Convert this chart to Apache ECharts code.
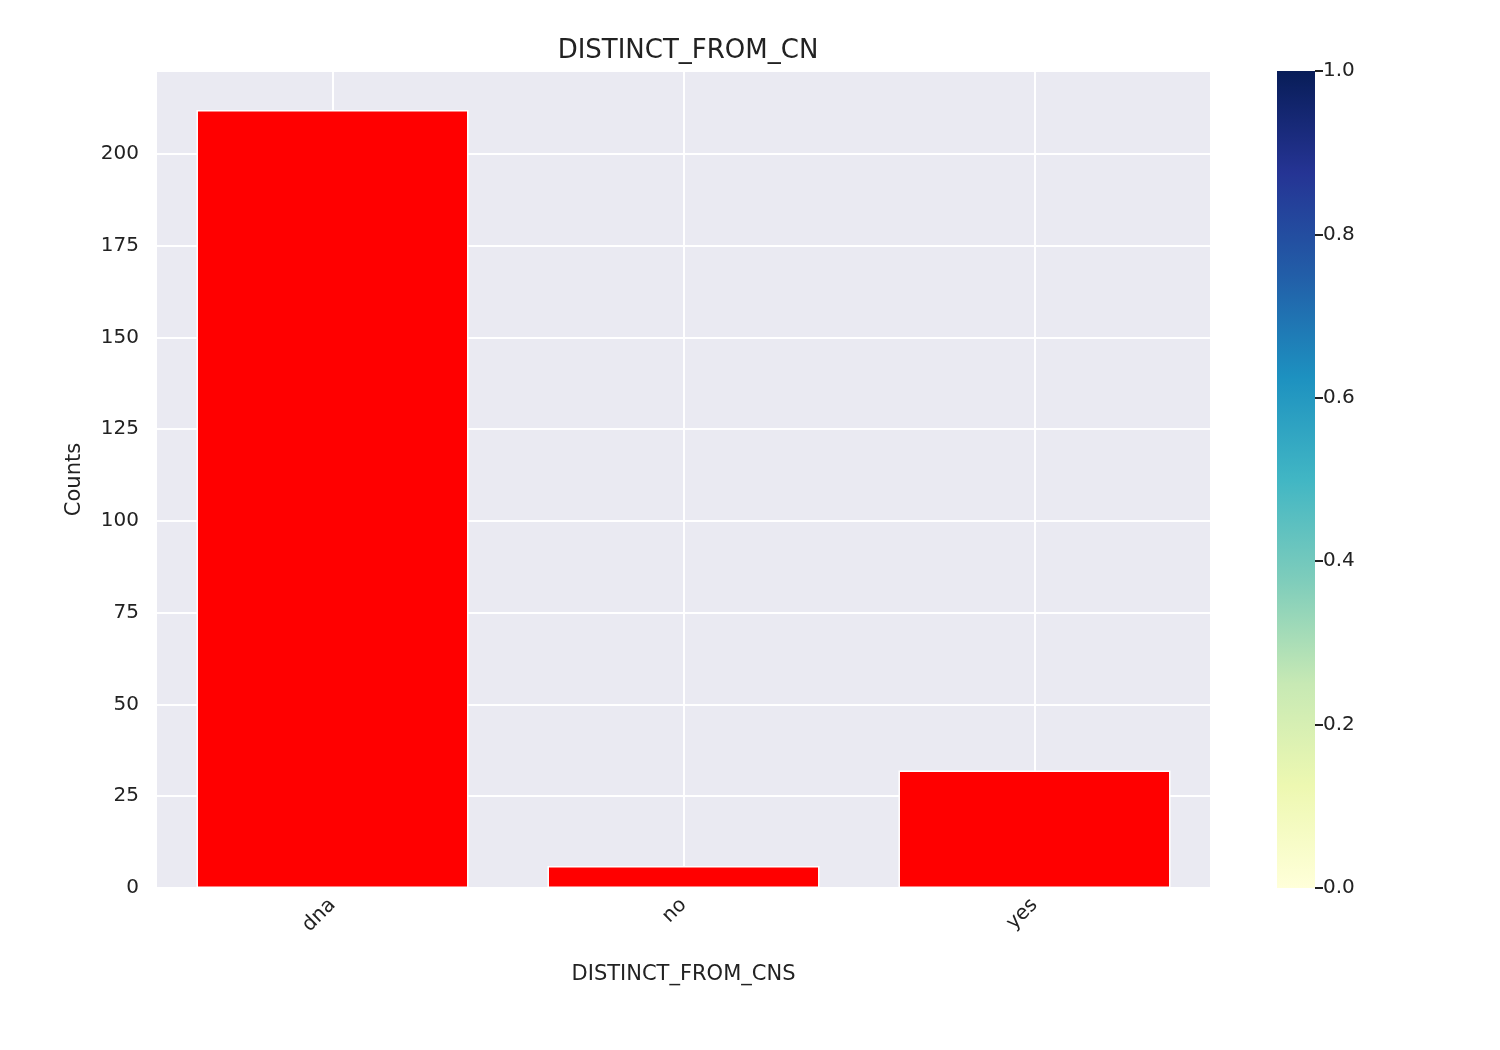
<!DOCTYPE html>
<html><head><meta charset="utf-8">
<script src="https://cdn.jsdelivr.net/npm/echarts@6/dist/echarts.min.js"></script>
<style>body{margin:0}#c{width:1500px;height:1050px}</style></head>
<body><div id="c"></div>
<script>
const categories = ['dna', 'no', 'yes'];
const counts = [212, 6, 32];
const yTicks = [0, 25, 50, 75, 100, 125, 150, 175, 200];
const cbarValue = [1];
const F = 'DejaVu Sans';
const chart = echarts.init(document.getElementById('c'));
chart.setOption({
  backgroundColor: '#fff',
  title: {text: 'DISTINCT_FROM_CN', left: 683, top: 33, textAlign: 'center',
    textStyle: {fontFamily: F, fontSize: 26, fontWeight: 'normal', color: '#222'}},
  grid: [
    {left: 157, top: 71, width: 1053, height: 817, backgroundColor: '#EAEAF2', show: true, borderWidth: 0},
    {left: 1277, top: 71, width: 38, height: 817, show: false}
  ],
  xAxis: [
    {type: 'category', gridIndex: 0, data: categories,
      name: 'DISTINCT_FROM_CNS', nameLocation: 'middle', nameGap: 76,
      nameTextStyle: {fontFamily: F, fontSize: 21, color: '#222'},
      axisLine: {show: false}, axisTick: {show: false},
      axisLabel: {rotate: 45, fontFamily: F, fontSize: 20, color: '#222', margin: 14},
      splitLine: {show: true, alignWithLabel: true, lineStyle: {color: '#fff', width: 2}}},
    {type: 'category', gridIndex: 1, data: [''], show: false}
  ],
  yAxis: [
    {type: 'value', gridIndex: 0, min: 0, max: 222.6, interval: 25,
      name: 'Counts', nameLocation: 'middle', nameGap: 72,
      nameTextStyle: {fontFamily: F, fontSize: 21, color: '#222'},
      axisLine: {show: false}, axisTick: {show: false},
      axisLabel: {fontFamily: F, fontSize: 20, color: '#222', margin: 18,
        formatter: v => yTicks.includes(v) ? String(v) : ''},
      splitLine: {lineStyle: {color: '#fff', width: 2}}},
    {type: 'value', gridIndex: 1, min: 0, max: 1, interval: 0.2, position: 'right',
      axisLine: {show: false},
      axisTick: {show: true, length: 8, lineStyle: {color: '#222', width: 2}},
      axisLabel: {fontFamily: F, fontSize: 20, color: '#222', margin: 8, formatter: v => v.toFixed(1)},
      splitLine: {show: false}}
  ],
  series: [
    {type: 'bar', xAxisIndex: 0, yAxisIndex: 0, data: counts, barCategoryGap: '22.5%',
      itemStyle: {color: '#ff0000', borderColor: '#fff', borderWidth: 1.5}, silent: true},
    {type: 'bar', xAxisIndex: 1, yAxisIndex: 1, data: cbarValue, barWidth: '100%', silent: true,
      itemStyle: {color: new echarts.graphic.LinearGradient(0, 1, 0, 0, [
        {offset: 0, color: '#ffffd9'}, {offset: 0.125, color: '#edf8b1'},
        {offset: 0.25, color: '#c7e9b4'}, {offset: 0.375, color: '#7fcdbb'},
        {offset: 0.5, color: '#41b6c4'}, {offset: 0.625, color: '#1d91c0'},
        {offset: 0.75, color: '#225ea8'}, {offset: 0.875, color: '#253494'},
        {offset: 1, color: '#081d58'}])}}
  ]
});
</script></body></html>
